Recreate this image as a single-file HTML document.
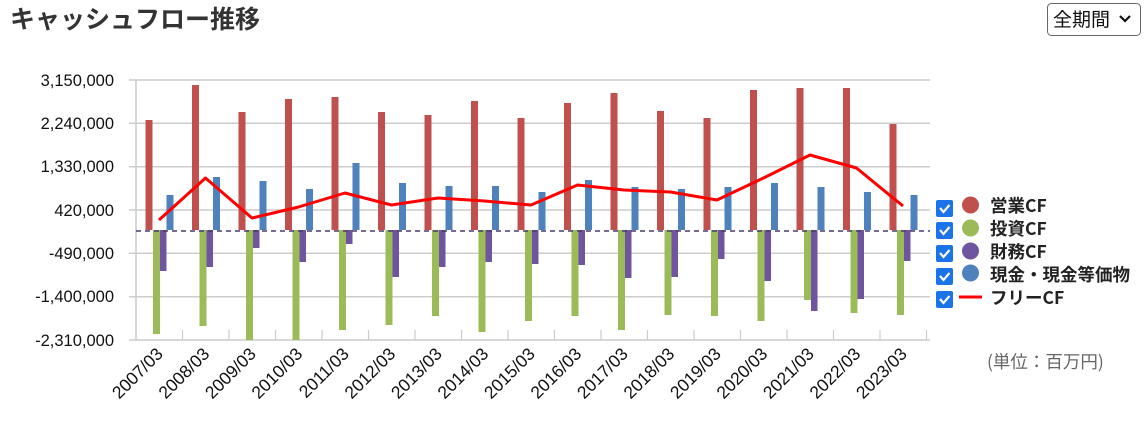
<!DOCTYPE html>
<html><head><meta charset="utf-8"><style>
body{margin:0;width:1145px;height:428px;background:#fff;overflow:hidden;font-family:"Liberation Sans","Noto Sans CJK JP",sans-serif;}
</style></head><body>
<svg width="1145" height="428" xmlns="http://www.w3.org/2000/svg" font-family="Liberation Sans, Noto Sans CJK JP, sans-serif">
<text x="10" y="28" font-size="25" font-weight="bold" fill="#333" font-family="Noto Sans CJK JP, sans-serif">キャッシュフロー推移</text>
<rect x="1047.5" y="3.5" width="93" height="32" rx="4" fill="#fff" stroke="#666"/>
<text x="1053" y="26" font-size="19" fill="#111" font-family="Noto Sans CJK JP, sans-serif">全期間</text>
<path d="M1120 16 l5 5 l5 -5" stroke="#111" stroke-width="2.2" fill="none"/>
<g stroke="#ccc" stroke-width="1.5">
<line x1="129" y1="80" x2="930" y2="80"/><line x1="129" y1="123.3" x2="930" y2="123.3"/><line x1="129" y1="166.7" x2="930" y2="166.7"/><line x1="129" y1="210" x2="930" y2="210"/><line x1="129" y1="253.3" x2="930" y2="253.3"/><line x1="129" y1="296.7" x2="930" y2="296.7"/><line x1="129" y1="340" x2="930" y2="340"/>
<line x1="136" y1="80" x2="136" y2="340"/>
<g stroke-width="1.2"><line x1="182.5" y1="330" x2="182.5" y2="340"/><line x1="229" y1="330" x2="229" y2="340"/><line x1="275.5" y1="330" x2="275.5" y2="340"/><line x1="322" y1="330" x2="322" y2="340"/><line x1="368.5" y1="330" x2="368.5" y2="340"/><line x1="415" y1="330" x2="415" y2="340"/><line x1="461.5" y1="330" x2="461.5" y2="340"/><line x1="508" y1="330" x2="508" y2="340"/><line x1="554.5" y1="330" x2="554.5" y2="340"/><line x1="601" y1="330" x2="601" y2="340"/><line x1="647.5" y1="330" x2="647.5" y2="340"/><line x1="694" y1="330" x2="694" y2="340"/><line x1="740.5" y1="330" x2="740.5" y2="340"/><line x1="787" y1="330" x2="787" y2="340"/><line x1="833.5" y1="330" x2="833.5" y2="340"/><line x1="880" y1="330" x2="880" y2="340"/><line x1="926.5" y1="330" x2="926.5" y2="340"/></g>
</g>
<g font-size="16.5" fill="#111" text-anchor="end">
<text x="114" y="86">3,150,000</text><text x="114" y="129">2,240,000</text><text x="114" y="172">1,330,000</text><text x="114" y="216">420,000</text><text x="114" y="259">-490,000</text><text x="114" y="302">-1,400,000</text><text x="114" y="346">-2,310,000</text>
</g>
<g fill="#c0504d">
<rect x="145.5" y="120" width="7" height="110"/><rect x="192" y="85" width="7" height="145"/><rect x="238.5" y="112" width="7" height="118"/><rect x="285" y="99" width="7" height="131"/><rect x="331.5" y="97" width="7" height="133"/><rect x="378" y="112" width="7" height="118"/><rect x="424.5" y="115" width="7" height="115"/><rect x="471" y="101" width="7" height="129"/><rect x="517.5" y="118" width="7" height="112"/><rect x="564" y="103" width="7" height="127"/><rect x="610.5" y="93" width="7" height="137"/><rect x="657" y="111" width="7" height="119"/><rect x="703.5" y="118" width="7" height="112"/><rect x="750" y="90" width="7" height="140"/><rect x="796.5" y="88" width="7" height="142"/><rect x="843" y="88" width="7" height="142"/><rect x="889.5" y="124" width="7" height="106"/>
</g>
<g fill="#9bbb59">
<rect x="153" y="230" width="7" height="104"/><rect x="199.5" y="230" width="7" height="96"/><rect x="246" y="230" width="7" height="110"/><rect x="292.5" y="230" width="7" height="110"/><rect x="339" y="230" width="7" height="100"/><rect x="385.5" y="230" width="7" height="95"/><rect x="432" y="230" width="7" height="86"/><rect x="478.5" y="230" width="7" height="102"/><rect x="525" y="230" width="7" height="91"/><rect x="571.5" y="230" width="7" height="86"/><rect x="618" y="230" width="7" height="100"/><rect x="664.5" y="230" width="7" height="85"/><rect x="711" y="230" width="7" height="86"/><rect x="757.5" y="230" width="7" height="91"/><rect x="804" y="230" width="7" height="70"/><rect x="850.5" y="230" width="7" height="83"/><rect x="897" y="230" width="7" height="85"/>
</g>
<g fill="#6f55a0">
<rect x="160" y="230" width="6.5" height="41"/><rect x="206.5" y="230" width="6.5" height="37"/><rect x="253" y="230" width="6.5" height="18"/><rect x="299.5" y="230" width="6.5" height="32"/><rect x="346" y="230" width="6.5" height="14"/><rect x="392.5" y="230" width="6.5" height="47"/><rect x="439" y="230" width="6.5" height="37"/><rect x="485.5" y="230" width="6.5" height="32"/><rect x="532" y="230" width="6.5" height="34"/><rect x="578.5" y="230" width="6.5" height="35"/><rect x="625" y="230" width="6.5" height="48"/><rect x="671.5" y="230" width="6.5" height="47"/><rect x="718" y="230" width="6.5" height="29"/><rect x="764.5" y="230" width="6.5" height="51"/><rect x="811" y="230" width="6.5" height="81"/><rect x="857.5" y="230" width="6.5" height="69"/><rect x="904" y="230" width="6.5" height="31"/>
</g>
<g fill="#4f81bd">
<rect x="166.5" y="195" width="7" height="35"/><rect x="213" y="177" width="7" height="53"/><rect x="259.5" y="181" width="7" height="49"/><rect x="306" y="189" width="7" height="41"/><rect x="352.5" y="163" width="7" height="67"/><rect x="399" y="183" width="7" height="47"/><rect x="445.5" y="186" width="7" height="44"/><rect x="492" y="186" width="7" height="44"/><rect x="538.5" y="192" width="7" height="38"/><rect x="585" y="180" width="7" height="50"/><rect x="631.5" y="187" width="7" height="43"/><rect x="678" y="189" width="7" height="41"/><rect x="724.5" y="187" width="7" height="43"/><rect x="771" y="183" width="7" height="47"/><rect x="817.5" y="187" width="7" height="43"/><rect x="864" y="192" width="7" height="38"/><rect x="910.5" y="195" width="7" height="35"/>
</g>
<line x1="136" y1="231" x2="930" y2="231" stroke="#4b3a6e" stroke-width="1.5" stroke-dasharray="5,4"/>
<polyline fill="none" stroke="#ff0000" stroke-width="3" stroke-linejoin="round" points="159,220 205.5,178 252,218 298.5,207 345,193 391.5,205 438,198 484.5,201 531,205 577.5,185 624,190 670.5,192 717,200 763.5,178 810,155 856.5,168 903,206"/>
<g font-size="17.5" fill="#111" text-anchor="end">
<text transform="translate(164,355) rotate(-45)">2007/03</text><text transform="translate(210.5,355) rotate(-45)">2008/03</text><text transform="translate(257,355) rotate(-45)">2009/03</text><text transform="translate(303.5,355) rotate(-45)">2010/03</text><text transform="translate(350,355) rotate(-45)">2011/03</text><text transform="translate(396.5,355) rotate(-45)">2012/03</text><text transform="translate(443,355) rotate(-45)">2013/03</text><text transform="translate(489.5,355) rotate(-45)">2014/03</text><text transform="translate(536,355) rotate(-45)">2015/03</text><text transform="translate(582.5,355) rotate(-45)">2016/03</text><text transform="translate(629,355) rotate(-45)">2017/03</text><text transform="translate(675.5,355) rotate(-45)">2018/03</text><text transform="translate(722,355) rotate(-45)">2019/03</text><text transform="translate(768.5,355) rotate(-45)">2020/03</text><text transform="translate(815,355) rotate(-45)">2021/03</text><text transform="translate(861.5,355) rotate(-45)">2022/03</text><text transform="translate(908,355) rotate(-45)">2023/03</text>
</g>
<g>
<g fill="#1a73e8">
<rect x="936" y="200" width="17" height="17" rx="2"/><rect x="936" y="222" width="17" height="17" rx="2"/><rect x="936" y="245" width="17" height="17" rx="2"/><rect x="936" y="268" width="17" height="17" rx="2"/><rect x="936" y="291" width="17" height="17" rx="2"/>
</g>
<g stroke="#fff" stroke-width="2.2" fill="none">
<path d="M940 208 l3.5 4 l6 -7"/><path d="M940 230 l3.5 4 l6 -7"/><path d="M940 253 l3.5 4 l6 -7"/><path d="M940 276 l3.5 4 l6 -7"/><path d="M940 299 l3.5 4 l6 -7"/>
</g>
<circle cx="970.5" cy="205" r="8.5" fill="#c0504d"/><circle cx="970.5" cy="228" r="8.5" fill="#9bbb59"/><circle cx="970.5" cy="251" r="8.5" fill="#6f55a0"/><circle cx="970.5" cy="273" r="8.5" fill="#4f81bd"/>
<line x1="959" y1="297" x2="982" y2="297" stroke="#ff0000" stroke-width="3"/>
<g font-size="17.5" font-weight="bold" fill="#222" font-family="Noto Sans CJK JP, sans-serif">
<text x="990" y="212">営業CF</text><text x="990" y="235">投資CF</text><text x="990" y="258">財務CF</text><text x="990" y="281">現金・現金等価物</text><text x="990" y="304">フリーCF</text>
</g>
</g>
<text x="987" y="368" font-size="17.5" fill="#666" font-family="Noto Sans CJK JP, sans-serif">(単位：百万円)</text>
</svg>
</body></html>
